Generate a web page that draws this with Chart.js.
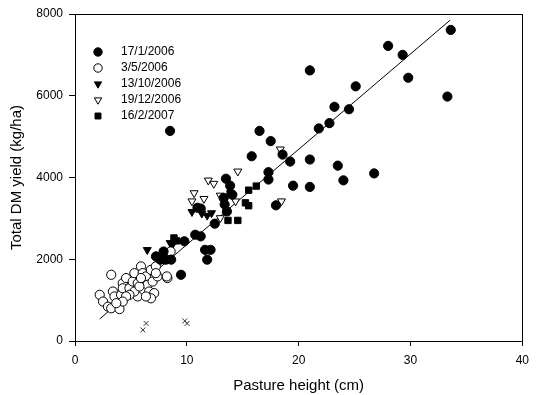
<!DOCTYPE html>
<html>
<head>
<meta charset="utf-8">
<script src="https://cdn.jsdelivr.net/npm/chart.js@4/dist/chart.umd.min.js"></script>
<style>
  html, body { margin: 0; padding: 0; background: #fff; }
  #wrap { width: 536px; height: 395px; }
</style>
</head>
<body>
<div id="wrap"><canvas id="c" width="536" height="395"></canvas></div>
<script>
// data: [pasture height cm, DM yield kg/ha]
const jan2006 = [
  [21.0, 6620], [28.0, 7220], [29.3, 7000], [29.8, 6440], [33.3, 5980], [33.6, 7610],
  [25.1, 6230], [23.2, 5730], [24.5, 5670], [22.75, 5330], [21.8, 5200], [18.56, 4560],
  [19.24, 4390], [21.0, 4440], [23.5, 4290], [24.0, 3930], [26.75, 4100], [19.5, 3800],
  [21.0, 3770], [8.5, 5140], [16.5, 5140], [17.5, 4890], [15.8, 4520], [17.3, 4130],
  [17.3, 3950], [17.97, 3320], [13.5, 3970], [13.87, 3800], [14.07, 3580], [13.38, 3340],
  [13.58, 3170], [13.3, 3500], [10.95, 3260], [11.24, 3240], [12.5, 2870], [10.75, 2600],
  [11.24, 2560], [11.63, 2230], [12.12, 2230], [11.82, 1990], [9.78, 2440], [7.92, 2190],
  [8.6, 1990], [9.48, 1620], [7.24, 2070], [7.63, 1990], [8.12, 1990]
];
const may2006 = [
  [3.24, 1620], [2.21, 1130], [2.51, 965], [2.95, 840], [3.24, 800], [3.98, 780],
  [3.39, 1210], [3.53, 1090], [4.12, 1130], [4.27, 1415], [4.57, 1540], [4.27, 1290],
  [4.87, 1290], [5.16, 1455], [5.31, 1660], [5.61, 1415], [5.9, 1825], [6.05, 1660],
  [6.34, 1580], [6.49, 1375], [6.63, 1210], [6.79, 1740], [6.94, 1455], [7.23, 1825],
  [7.38, 1580], [7.08, 1170], [6.79, 1045], [5.61, 1090], [5.31, 1210], [4.87, 1130],
  [4.57, 1090], [4.27, 965], [3.69, 925], [6.34, 1090], [5.76, 1335], [8.26, 1540],
  [5.9, 1540], [7.23, 1660], [8.55, 2190], [8.21, 1580]
];
const oct2006 = [
  [6.46, 2230], [8.51, 2400], [8.7, 2350], [10.46, 3160], [11.34, 3120], [11.82, 3070], [12.21, 3130]
];
const dec2006 = [
  [10.65, 3620], [10.46, 3420], [11.53, 3480], [11.92, 3930], [12.41, 3850], [12.99, 3560],
  [14.36, 3420], [12.99, 3010], [14.56, 4150], [18.36, 4690], [18.46, 3420]
];
const feb2007 = [
  [8.85, 2520], [9.09, 2450], [15.53, 3690], [16.21, 3790], [15.24, 3380], [15.53, 3310],
  [13.68, 2950], [14.56, 2950], [13.87, 3620]
];
const excluded = [[6.07, 270], [6.36, 430], [9.82, 490], [10.02, 430]];
const fitLine = [[2.21, 540], [33.55, 7850]];

const xTicks = [0, 10, 20, 30, 40];
const yTicks = [0, 2000, 4000, 6000, 8000];

const toPts = arr => arr.map(p => ({ x: p[0], y: p[1] }));

function markerSet(label, data, style, filled, rotation) {
  return {
    label: label,
    data: toPts(data),
    pointStyle: style,
    pointRotation: rotation || 0,
    pointRadius: style === 'rect' ? 4.5 : 4.6,
    pointBorderWidth: 1,
    pointBackgroundColor: filled ? '#000' : '#fff',
    pointBorderColor: '#000',
    showLine: false,
    order: 1
  };
}

const datasets = [
  markerSet('17/1/2006', jan2006, 'circle', true),
  markerSet('3/5/2006', may2006, 'circle', false),
  markerSet('13/10/2006', oct2006, 'triangle', true, 180),
  markerSet('19/12/2006', dec2006, 'triangle', false, 180),
  markerSet('16/2/2007', feb2007, 'rect', true),
  {
    label: 'excluded',
    data: toPts(excluded),
    pointStyle: 'crossRot',
    pointRadius: 3.5,
    pointBorderWidth: 1,
    pointBorderColor: '#333',
    showLine: false,
    order: 1
  },
  {
    label: 'fit',
    data: toPts(fitLine),
    showLine: true,
    borderColor: '#000',
    borderWidth: 1,
    pointRadius: 0,
    order: 10
  }
];

// box round the plot and the legend inside it
const framePlugin = {
  id: 'frame',
  afterDraw(chart) {
    const ctx = chart.ctx;
    const a = chart.chartArea;
    ctx.save();
    ctx.strokeStyle = '#000';
    ctx.lineWidth = 1;
    ctx.strokeRect(Math.round(a.left) + 0.5, Math.round(a.top) + 0.5,
      Math.round(a.right - a.left), Math.round(a.bottom - a.top));

    ctx.font = '12px "Liberation Sans", Arial, sans-serif';
    ctx.textBaseline = 'middle';
    for (let i = 0; i < 5; i++) {
      const ds = chart.data.datasets[i];
      const y = 52 + i * 16;
      ctx.fillStyle = ds.pointBackgroundColor;
      ctx.strokeStyle = '#000';
      ctx.lineWidth = 1;
      Chart.helpers.drawPoint(ctx, {
        pointStyle: ds.pointStyle,
        radius: 4.2,
        rotation: ds.pointRotation,
        borderWidth: 1
      }, 98, y);
      ctx.fillStyle = '#000';
      ctx.fillText(ds.label, 121, y);
    }
    ctx.restore();
  }
};

new Chart(document.getElementById('c'), {
  type: 'scatter',
  data: { datasets: datasets },
  options: {
    responsive: false,
    animation: false,
    layout: { padding: { left: 0, top: 14, right: 9, bottom: 0 } },
    plugins: { legend: { display: false }, tooltip: { enabled: false } },
    scales: {
      x: {
        type: 'linear',
        min: 0, max: 40,
        afterBuildTicks: s => { s.ticks = xTicks.map(v => ({ value: v })); },
        afterFit: s => { s.height = 54; },
        grid: { drawOnChartArea: false, tickLength: 5, color: '#000' },
        border: { color: '#000' },
        ticks: { color: '#000', padding: 7, font: { family: 'Liberation Sans', size: 12 } },
        title: { display: true, text: 'Pasture height (cm)', color: '#000',
          font: { family: 'Liberation Sans', size: 15 }, padding: { top: 0, bottom: 0 } }
      },
      y: {
        type: 'linear',
        min: 0, max: 8000,
        afterBuildTicks: s => { s.ticks = yTicks.map(v => ({ value: v })); },
        afterFit: s => { s.width = 75; },
        grid: { drawOnChartArea: false, tickLength: 6, color: '#000' },
        border: { color: '#000' },
        ticks: { color: '#000', padding: 6, callback: v => String(v),
          font: { family: 'Liberation Sans', size: 12 } },
        title: { display: true, text: 'Total DM yield (kg/ha)', color: '#000',
          font: { family: 'Liberation Sans', size: 15 }, padding: { top: 8, bottom: 0 } }
      }
    }
  },
  plugins: [framePlugin]
});
</script>
</body>
</html>
